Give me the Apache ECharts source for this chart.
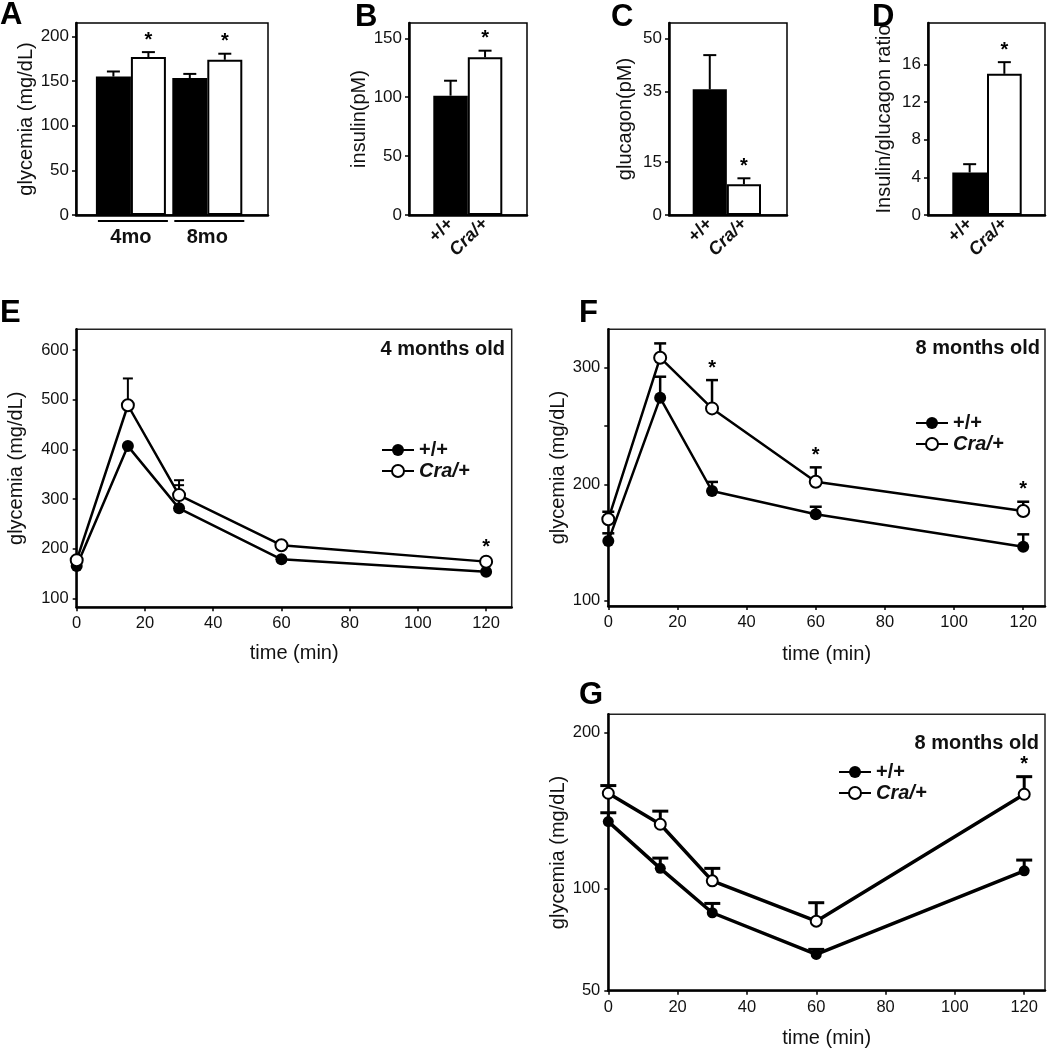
<!DOCTYPE html>
<html><head><meta charset="utf-8">
<script src="https://cdn.jsdelivr.net/npm/echarts@6/dist/echarts.min.js"></script>
<style>html,body{margin:0;padding:0;background:#fff}#c{width:1047px;height:1050px}</style>
</head><body><div id="c"></div>
<script>
// ---------------- data ----------------
const ageGroups = ['4mo', '8mo'];
const fastWT = [155, 153.3];
const fastWTErr = [160.7, 158];
const fastCra = [176.8, 173.8];
const fastCraErr = [182.4, 180.6];
const fastCraSig = [1, 1];

const genotypes = ['+/+', 'Cra/+'];
const insulin = [101.3, 133.9];
const insulinErr = [114, 139.5];
const insulinSig = [0, 1];
const glucagon = [35.6, 8.7];
const glucagonErr = [45.3, 10.4];
const glucagonSig = [0, 1];
const ratio = [4.52, 15.0];
const ratioErr = [5.4, 16.24];
const ratioSig = [0, 1];

const timeMin = [0, 15, 30, 60, 120];
const gttE_WT = [165, 406.7, 281.3, 178.6, 153.6];
const gttE_WTErr = [165, 406.7, 328, 178.6, 153.6];
const gttE_Cra = [177, 489, 308, 207, 174];
const gttE_CraErr = [177, 543, 338, 207, 178];
const gttE_CraSig = [0, 0, 0, 0, 1];

const gttF_WT = [151.2, 274.2, 194.2, 174.2, 146.4];
const gttF_WTErr = [157.9, 292.3, 202, 180.7, 157];
const gttF_Cra = [169.9, 308.6, 265.1, 202.1, 177];
const gttF_CraErr = [176.4, 320.9, 289.4, 214.5, 185];
const gttF_CraSig = [0, 0, 1, 1, 1];

const ittG_WT = [134.6, 109.3, 89.7, 74.5, 108.1];
const ittG_WTErr = [140, 114.4, 93.5, 76.2, 113.4];
const ittG_Cra = [152.7, 133, 103.4, 86.4, 152];
const ittG_CraErr = [158, 141, 109.3, 93.8, 164.4];
const ittG_CraSig = [0, 0, 0, 0, 1];

const ticksA = [0, 50, 100, 150, 200];
const ticksB = [0, 50, 100, 150];
const ticksC = [0, 15, 35, 50];
const ticksD = [0, 4, 8, 12, 16];
const ticksE = [100, 200, 300, 400, 500, 600];
const ticksFMinor = [100, 150, 200, 250, 300];
const ticksFLabel = [100, 200, 300];
const ticksG = [63.4, 100, 200];
const ticksGLabel = ['50', '100', '200'];
const timeTicks = [0, 20, 40, 60, 80, 100, 120];

// ---------------- helpers ----------------
const FF = '"Liberation Sans", Arial, sans-serif';
const BLACK = '#000';
function errRender(half, lw, offset, starGap) {
  return function (params, api) {
    const x = api.value(0), v = api.value(1), e = api.value(2), side = api.value(3), sig = api.value(4);
    const pv = api.coord([x, v]), pe = api.coord([x, e]);
    const cx = pv[0] + side * offset;
    const ch = [];
    if (e > v) {
      ch.push({type: 'line', shape: {x1: cx, y1: pv[1], x2: cx, y2: pe[1]}, style: {stroke: BLACK, lineWidth: lw}});
      ch.push({type: 'line', shape: {x1: cx - half, y1: pe[1], x2: cx + half, y2: pe[1]}, style: {stroke: BLACK, lineWidth: lw}});
    }
    if (sig) ch.push({type: 'text', style: {text: '*', x: cx, y: Math.min(pe[1], pv[1]) - starGap, align: 'center', verticalAlign: 'middle', font: 'bold 20px "Liberation Sans"', fill: BLACK}});
    return {type: 'group', children: ch};
  };
}
function rows(cats, vals, errs, side, sig) {
  return cats.map((c, i) => [typeof c === 'number' ? c : i, vals[i], errs[i], side, sig ? sig[i] : 0]);
}
const blackStyle = {color: BLACK};
const whiteStyle = {color: '#fff', borderColor: BLACK, borderWidth: 2};

const grids = [], xAxes = [], yAxes = [], series = [];
function framePanel(rect, ticks, max, name, nameGap) {
  const gi = grids.length;
  grids.push({left: rect[0], top: rect[1], width: rect[2], height: rect[3], show: true, borderColor: BLACK, borderWidth: 1.5});
  xAxes.push({gridIndex: gi, type: 'value', min: 0, max: 1, axisLine: {show: true, lineStyle: {color: BLACK, width: 2.5}}, axisTick: {show: false}, axisLabel: {show: false}, splitLine: {show: false}});
  yAxes.push({gridIndex: gi, type: 'value', min: 0, max: max,
    axisLine: {show: true, lineStyle: {color: BLACK, width: 2.5}},
    axisTick: {show: true, length: 4, lineStyle: {color: BLACK, width: 1.5}, customValues: ticks},
    axisLabel: {customValues: ticks, fontSize: 17, color: '#111', margin: 7, fontFamily: FF},
    splitLine: {show: false},
    name: name, nameLocation: 'middle', nameGap: nameGap,
    nameTextStyle: {fontSize: 20, color: '#111', fontFamily: FF}});
  return gi;
}
function dataPanel(rect, cats, max, labelOpts) {
  const gi = grids.length;
  grids.push({left: rect[0], top: rect[1], width: rect[2], height: rect[3]});
  xAxes.push(Object.assign({gridIndex: gi, type: 'category', data: cats, axisLine: {show: false}, axisTick: {show: false}}, labelOpts));
  yAxes.push({gridIndex: gi, type: 'value', min: 0, max: max, show: false, splitLine: {show: false}});
  return gi;
}
const genoLabel = {axisLabel: {rotate: 45, margin: 6, fontFamily: FF,
  formatter: v => v === 'Cra/+' ? '{i|Cra/+}' : '{b|+/+}',
  rich: {i: {fontSize: 18, fontWeight: 'bold', fontStyle: 'italic', fontFamily: FF, color: '#111'},
         b: {fontSize: 18, fontWeight: 'bold', fontFamily: FF, color: '#111'}}}};

// ---- Panel A ----
framePanel([76, 23, 192, 192], ticksA, 215, 'glycemia (mg/dL)', 40);
const gA = dataPanel([92.7, 23, 152.8, 192], ageGroups, 215,
  {axisLabel: {margin: 12, fontSize: 20, fontWeight: 'bold', color: '#111', fontFamily: FF}});
series.push({type: 'bar', xAxisIndex: gA, yAxisIndex: gA, data: fastWT, barWidth: 35, barGap: '0%', itemStyle: blackStyle, silent: true});
series.push({type: 'bar', xAxisIndex: gA, yAxisIndex: gA, data: fastCra, barWidth: 35, barGap: '0%', itemStyle: whiteStyle, silent: true});
series.push({type: 'custom', xAxisIndex: gA, yAxisIndex: gA, z: 5, silent: true, renderItem: errRender(6.5, 2, 17.5, 12),
  data: rows(ageGroups, fastWT, fastWTErr, -1).concat(rows(ageGroups, fastCra, fastCraErr, 1, fastCraSig))});
series.push({type: 'custom', xAxisIndex: gA, yAxisIndex: gA, silent: true,
  data: ageGroups.map((c, i) => [i, 0]),
  renderItem: function (p, api) {
    const c = api.coord([api.value(0), 0]);
    return {type: 'line', shape: {x1: c[0] - 33, y1: c[1] + 6, x2: c[0] + 37, y2: c[1] + 6}, style: {stroke: BLACK, lineWidth: 2}};
  }});

// ---- Panels B, C, D ----
function genoPanel(frameRect, dataRect, ticks, max, name, vals, errs, sig) {
  framePanel(frameRect, ticks, max, name, 34);
  const g = dataPanel(dataRect, genotypes, max, genoLabel);
  series.push({type: 'bar', xAxisIndex: g, yAxisIndex: g, barCategoryGap: '0%', silent: true,
    data: vals.map((v, i) => ({value: v, itemStyle: i === 0 ? blackStyle : whiteStyle}))});
  series.push({type: 'custom', xAxisIndex: g, yAxisIndex: g, z: 5, silent: true, renderItem: errRender(6.5, 2, 0, 12),
    data: rows(genotypes, vals, errs, 0, sig)});
}
genoPanel([409, 23, 118, 192], [433.3, 23, 69, 192], ticksB, 163, 'insulin(pM)', insulin, insulinErr, insulinSig);
genoPanel([669, 23, 118, 192], [692.7, 23, 68.3, 192], ticksC, 54.4, 'glucagon(pM)', glucagon, glucagonErr, glucagonSig);
genoPanel([928, 23, 117, 192], [952.3, 23, 69.4, 192], ticksD, 20.4, 'Insulin/glucagon ratio', ratio, ratioErr, ratioSig);

// ---- Line panels ----
function linePanel(rect, xMax, yAxisOpt, wt, wtErr, cra, craErr, craSig, style) {
  const gi = grids.length;
  grids.push({left: rect[0], top: rect[1], width: rect[2], height: rect[3], show: true, borderColor: '#222', borderWidth: 1.5});
  xAxes.push({gridIndex: gi, type: 'value', min: 0, max: xMax,
    axisLine: {show: true, lineStyle: {color: BLACK, width: 2.5}},
    axisTick: {show: true, length: 4, lineStyle: {color: BLACK, width: 1.5}, customValues: timeTicks},
    axisLabel: {customValues: timeTicks, fontSize: 16.5, color: '#111', margin: 8, fontFamily: FF},
    splitLine: {show: false},
    name: 'time (min)', nameLocation: 'middle', nameGap: style.xNameGap,
    nameTextStyle: {fontSize: 20, color: '#111', fontFamily: FF}});
  yAxes.push(Object.assign({gridIndex: gi,
    axisLine: {show: true, lineStyle: {color: BLACK, width: 2.5}},
    splitLine: {show: false},
    name: 'glycemia (mg/dL)', nameLocation: 'middle', nameGap: style.yNameGap,
    nameTextStyle: {fontSize: 20, color: '#111', fontFamily: FF}}, yAxisOpt));
  series.push({type: 'custom', xAxisIndex: gi, yAxisIndex: gi, z: 2, silent: true,
    renderItem: errRender(style.cap, style.elw, 0, 12),
    data: rows(timeMin, wt, wtErr, 0).concat(rows(timeMin, cra, craErr, 0, craSig))});
  series.push({type: 'line', name: '+/+', xAxisIndex: gi, yAxisIndex: gi, z: 3, silent: true,
    data: timeMin.map((t, i) => [t, wt[i]]), symbol: 'circle', symbolSize: style.sym,
    lineStyle: {color: BLACK, width: style.lw}, itemStyle: {color: BLACK}});
  series.push({type: 'line', name: 'Cra/+', xAxisIndex: gi, yAxisIndex: gi, z: 4, silent: true,
    data: timeMin.map((t, i) => [t, cra[i]]), symbol: 'circle', symbolSize: style.sym,
    lineStyle: {color: BLACK, width: style.lw}, itemStyle: {color: '#fff', borderColor: BLACK, borderWidth: 2}});
}
const yLab = (vals, fmt) => ({customValues: vals, fontSize: 16.5, color: '#111', margin: 8, fontFamily: FF, formatter: fmt});
const yTick = vals => ({show: true, length: 4, lineStyle: {color: BLACK, width: 1.5}, customValues: vals});

linePanel([76.7, 329.3, 435, 278], 127.5,
  {type: 'value', min: 82, max: 642, axisLabel: yLab(ticksE), axisTick: yTick(ticksE)},
  gttE_WT, gttE_WTErr, gttE_Cra, gttE_CraErr, gttE_CraSig,
  {xNameGap: 36, yNameGap: 50, cap: 5, elw: 2, sym: 12, lw: 2.5});
linePanel([608.3, 329.3, 436.7, 276.7], 126.3,
  {type: 'value', min: 95.5, max: 333, axisLabel: yLab(ticksFLabel), axisTick: yTick(ticksFMinor)},
  gttF_WT, gttF_WTErr, gttF_Cra, gttF_CraErr, gttF_CraSig,
  {xNameGap: 38, yNameGap: 10, cap: 6, elw: 2.5, sym: 12, lw: 2.5});
linePanel([608.3, 714.3, 436.7, 276.4], 126,
  {type: 'log', logBase: 10, min: 63.4, max: 217,
   axisLabel: yLab(ticksG, v => ticksGLabel[ticksG.indexOf(v)] !== undefined ? ticksGLabel[ticksG.indexOf(v)] : (v < 70 ? '50' : String(Math.round(v)))),
   axisTick: yTick(ticksG)},
  ittG_WT, ittG_WTErr, ittG_Cra, ittG_CraErr, ittG_CraSig,
  {xNameGap: 38, yNameGap: 10, cap: 8, elw: 3, sym: 11, lw: 3.5});

// ---- titles, legends ----
const letter = (t, l, tp) => ({text: t, left: l, top: tp, padding: 0, textStyle: {fontSize: 31, fontWeight: 'bold', color: BLACK, fontFamily: FF}});
const age = (t, r, tp) => ({text: t, right: r, top: tp, padding: 0, textStyle: {fontSize: 20, fontWeight: 'bold', color: '#111', fontFamily: FF}});
const legendBase = (l, t) => ({data: ['+/+', 'Cra/+'], orient: 'vertical', left: l, top: t, padding: 0,
  itemWidth: 32, itemHeight: 15, itemGap: 1, selectedMode: false,
  formatter: n => n === 'Cra/+' ? '{i|Cra/+}' : '{b|+/+}',
  textStyle: {fontFamily: FF, rich: {
    i: {fontSize: 20, fontWeight: 'bold', fontStyle: 'italic', fontFamily: FF, color: '#111'},
    b: {fontSize: 20, fontWeight: 'bold', fontFamily: FF, color: '#111'}}}});

const option = {
  animation: false,
  backgroundColor: '#fff',
  title: [letter('A', 0, 0), letter('B', 355, 2), letter('C', 611, 2), letter('D', 872, 2),
          letter('E', 0, 298), letter('F', 579, 298), letter('G', 579, 680),
          age('4 months old', 542, 339), age('8 months old', 7, 338), age('8 months old', 8, 733)],
  legend: [legendBase(381, 440), legendBase(915, 413), legendBase(838, 762)],
  grid: grids, xAxis: xAxes, yAxis: yAxes, series: series
};
const chart = echarts.init(document.getElementById('c'));
chart.setOption(option);
</script></body></html>
